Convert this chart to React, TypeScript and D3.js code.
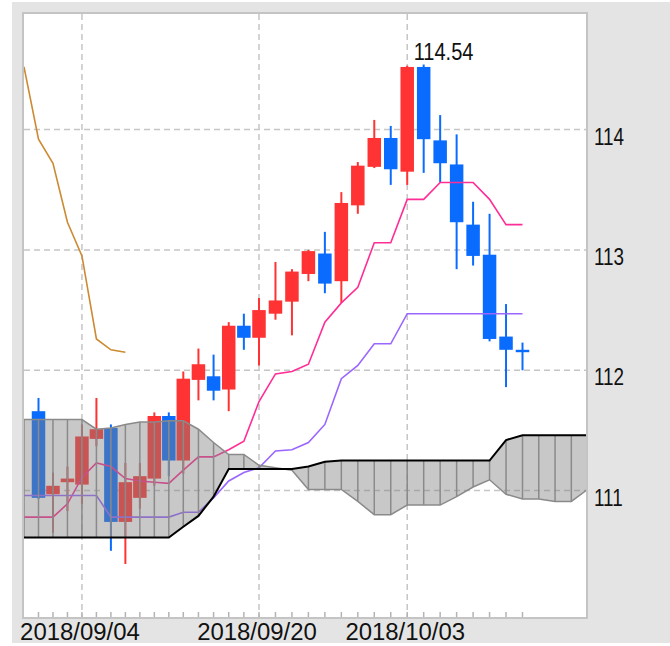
import * as d3 from 'd3'

// daily bars, USD/JPY
const dates = [
  '2018/08/30', '2018/08/31', '2018/09/03', '2018/09/04', '2018/09/05', '2018/09/06', '2018/09/07', '2018/09/10',
  '2018/09/11', '2018/09/12', '2018/09/13', '2018/09/14', '2018/09/17', '2018/09/18', '2018/09/19', '2018/09/20',
  '2018/09/21', '2018/09/24', '2018/09/25', '2018/09/26', '2018/09/27', '2018/09/28', '2018/10/01', '2018/10/02',
  '2018/10/03', '2018/10/04', '2018/10/05', '2018/10/08', '2018/10/09', '2018/10/10', '2018/10/11', '2018/10/12',
]
const opens = [
  111.66, 110.97, 111.07, 111.05, 111.43, 111.52, 110.74, 110.94, 111.10, 111.62, 111.25, 111.92, 111.95, 111.84, 112.37, 112.27,
  112.47, 112.57, 112.80, 112.97, 112.74, 113.37, 113.69, 113.93, 113.65, 114.52, 113.91, 113.71, 113.21, 112.96, 112.28, 112.17,
]
const highs = [
  111.77, 111.15, 111.20, 111.55, 111.77, 111.55, 111.23, 111.23, 111.65, 111.65, 111.99, 112.18, 112.13, 112.40, 112.47, 112.60,
  112.90, 112.84, 113.00, 113.15, 113.48, 113.73, 114.08, 114.03, 114.53, 114.54, 114.12, 113.96, 113.40, 113.30, 112.55, 112.23,
]
const lows = [
  110.93, 110.65, 110.83, 110.89, 111.37, 110.50, 110.39, 110.85, 111.04, 111.12, 111.14, 111.75, 111.75, 111.66, 112.17, 112.04,
  112.42, 112.29, 112.74, 112.64, 112.56, 113.30, 113.68, 113.54, 113.54, 113.64, 113.56, 112.84, 112.87, 112.24, 111.86, 112.00,
]
const closes = [
  110.94, 111.04, 111.10, 111.45, 111.51, 110.74, 111.07, 111.12, 111.62, 111.25, 111.93, 112.05, 111.83, 112.37, 112.27, 112.50,
  112.58, 112.82, 112.99, 112.72, 113.39, 113.70, 113.93, 113.67, 114.52, 113.92, 113.72, 113.23, 112.95, 112.26, 112.17, 112.15,
]

// indicator series start one bar before the first visible candle
const LINE_START = -1
const tenkan = [
  110.78, 110.78, 110.78, 110.89, 111.11, 111.23, 111.20, 111.10, 111.08, 111.07, 111.06, 111.17, 111.28, 111.28, 111.34, 111.41,
  111.74, 111.97, 111.99, 112.05, 112.40, 112.56, 112.69, 113.06, 113.06, 113.42, 113.42, 113.56, 113.56, 113.56, 113.42, 113.21, 113.21,
]
const kijun = [
  110.96, 110.96, 110.96, 110.96, 110.96, 110.96, 110.78, 110.78, 110.78, 110.78, 110.78, 110.82, 110.82, 110.94, 111.08, 111.15,
  111.19, 111.33, 111.34, 111.40, 111.55, 111.93, 112.04, 112.22, 112.22, 112.47, 112.47, 112.47, 112.47, 112.47, 112.47, 112.47, 112.47,
]
// leading spans run 4 bars past the last candle
const senkouA = [
  111.59, 111.59, 111.59, 111.59, 111.59, 111.51, 111.52, 111.55, 111.57, 111.57, 111.58, 111.58, 111.51, 111.40, 111.30, 111.30,
  111.21, 111.19, 111.17, 111.01, 111.01, 111.01, 110.91, 110.80, 110.80, 110.88, 110.88, 110.88, 110.95, 111.03, 111.09, 110.97,
  110.93, 110.93, 110.91, 110.91, 111.01,
]
const senkouB = [
  110.61, 110.61, 110.61, 110.61, 110.61, 110.61, 110.61, 110.61, 110.61, 110.61, 110.61, 110.70, 110.79, 110.95, 111.18, 111.18,
  111.18, 111.18, 111.18, 111.20, 111.24, 111.25, 111.25, 111.25, 111.25, 111.25, 111.25, 111.25, 111.25, 111.25, 111.25, 111.42,
  111.46, 111.46, 111.46, 111.46, 111.46,
]
const CHIKOU_SHIFT = 25

const yTicks = [111, 112, 113, 114]
const dateLabels = ['2018/09/04', '2018/09/20', '2018/10/03']

const W = 670
const H = 646
const plot = { left: 24, top: 14, right: 586, bottom: 617 }

const UP = '#ff3333'
const DOWN = '#0a6cff'
const FONT = '"Liberation Sans", Arial, sans-serif'

export default function App() {
  // bars in the source are not evenly spaced, so the slot scale is piecewise
  const x = d3.scaleLinear()
    .domain([-1, 0, 10, 15, 31, 35])
    .range([24, 38.5, 183.3, 259, 522.5, 587.6])
  const y = d3.scaleLinear().domain([109.95, 114.96]).range([plot.bottom, plot.top])

  const line = d3.line<[number, number]>()
    .x(d => x(d[0]))
    .y(d => y(d[1]))
  const slots = (arr: number[]) => arr.map((v, i) => [i + LINE_START, v] as [number, number])
  const chikou = closes.map((c, i) => [i - CHIKOU_SHIFT, c] as [number, number])

  const cloud = d3.area<number>()
    .x((_, i) => x(i + LINE_START))
    .y0(d => y(d))
    .y1((_, i) => y(senkouB[i]))

  const maxIdx = d3.maxIndex(highs)
  const bodyW = 13.5

  return (
    <svg width={W} height={H} style={{ position: 'absolute', left: 0, top: 0 }}>
      <defs>
        <clipPath id="plot">
          <rect x={plot.left} y={plot.top} width={plot.right - plot.left} height={plot.bottom - plot.top} />
        </clipPath>
      </defs>
      <rect x={0} y={0} width={W} height={H} fill="#fff" />
      <rect x={12} y={2} width={W - 12} height={641} fill="#e4e4e4" />
      <rect x={plot.left - 1} y={plot.top - 1} width={plot.right - plot.left + 2} height={plot.bottom - plot.top + 2}
        fill="#fff" stroke="#c4c4c4" strokeWidth={2} />

      <g clipPath="url(#plot)">
        {/* grid */}
        {yTicks.map(t => (
          <line key={t} x1={plot.left} x2={plot.right} y1={y(t)} y2={y(t)}
            stroke="#c6c6c6" strokeWidth={1.5} strokeDasharray="6,4" />
        ))}
        {dateLabels.map(d => (
          <line key={d} x1={x(dates.indexOf(d))} x2={x(dates.indexOf(d))} y1={plot.top} y2={plot.bottom}
            stroke="#c6c6c6" strokeWidth={1.5} strokeDasharray="6,4" />
        ))}
        {dates.map((d, i) => (
          <line key={d} x1={x(i)} x2={x(i)} y1={plot.bottom - 5} y2={plot.bottom} stroke="#b4b4b4" strokeWidth={1.5} />
        ))}

        {/* candles */}
        {dates.map((d, i) => {
          const o = opens[i], c = closes[i]
          const col = c >= o ? UP : DOWN
          const top = y(Math.max(o, c))
          const h = Math.max(2, Math.abs(y(o) - y(c)))
          return (
            <g key={d}>
              <line x1={x(i)} x2={x(i)} y1={y(highs[i])} y2={y(lows[i])} stroke={col} strokeWidth={2} />
              <rect x={x(i) - bodyW / 2} y={top} width={bodyW} height={h} fill={col} />
            </g>
          )
        })}

        <path d={line(slots(tenkan)) ?? ''} fill="none" stroke="#ff2d95" strokeWidth={1.6} />
        <path d={line(slots(kijun)) ?? ''} fill="none" stroke="#9a66ff" strokeWidth={1.6} />
        <path d={line(chikou) ?? ''} fill="none" stroke="#cc8a33" strokeWidth={1.6} />

        {/* cloud */}
        <path d={cloud(senkouA) ?? ''} fill="rgb(128,128,128)" fillOpacity={0.43} />
        {senkouA.map((a, i) => (
          <line key={i} x1={x(i + LINE_START)} x2={x(i + LINE_START)} y1={y(a)} y2={y(senkouB[i])}
            stroke="#8a8a8a" strokeWidth={1.5} />
        ))}
        <path d={line(slots(senkouA)) ?? ''} fill="none" stroke="#8a8a8a" strokeWidth={1.5} />
        <path d={line(slots(senkouB)) ?? ''} fill="none" stroke="#000" strokeWidth={2} />
      </g>

      <text transform={`translate(${x(maxIdx) - 10},${y(highs[maxIdx]) - 5}) scale(0.87,1)`}
        fontFamily={FONT} fontSize={23} fill="#111">{highs[maxIdx].toFixed(2)}</text>

      {yTicks.map(t => (
        <text key={t} transform={`translate(594,${y(t) + 15}) scale(0.82,1)`}
          fontFamily={FONT} fontSize={23} fill="#111">{t}</text>
      ))}
      {dateLabels.map(d => (
        <text key={d} transform={`translate(${x(dates.indexOf(d)) - 2},640) scale(1.04,1)`}
          textAnchor="middle" fontFamily={FONT} fontSize={23} fill="#111">{d}</text>
      ))}
    </svg>
  )
}
